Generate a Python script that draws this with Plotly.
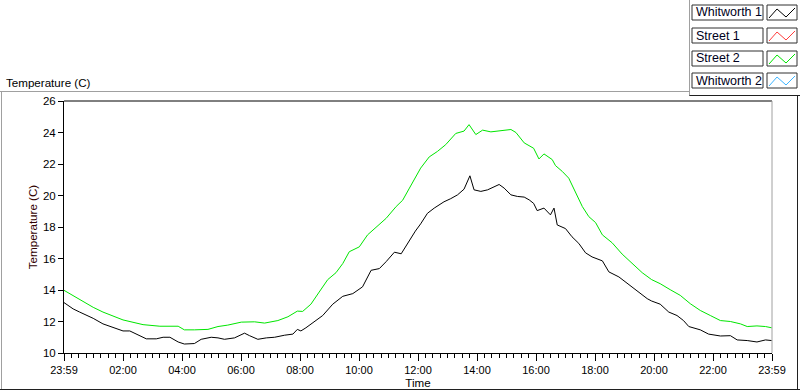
import plotly.graph_objects as go

# ---------------- data (hours since 23:59 start, temperature in C) ----------------
hours_whitworth1 = [0.0, 0.31, 0.53, 0.99, 1.32, 1.66, 2.0, 2.23, 2.46, 2.79, 3.13, 3.36, 3.59, 3.81, 3.87,
                    4.08, 4.42, 4.65, 4.99, 5.22, 5.44, 5.78, 6.12, 6.29, 6.57, 6.86, 7.14, 7.48, 7.76, 7.91,
                    8.03, 8.20, 8.43, 8.77, 9.11, 9.45, 9.79, 10.12, 10.41, 10.69, 10.92, 11.20, 11.43, 11.71, 11.91,
                    12.09, 12.32, 12.55, 12.88, 13.11, 13.34, 13.56, 13.76, 13.90, 14.13, 14.36, 14.53, 14.75, 14.92,
                    15.15, 15.37, 15.60, 15.77, 15.92, 16.04, 16.27, 16.49, 16.61, 16.72, 17.00, 17.22, 17.45, 17.68,
                    17.90, 18.25, 18.47, 18.81, 19.15, 19.49, 19.77, 19.92, 20.21, 20.50, 20.78, 21.00, 21.18, 21.57,
                    21.85, 22.25, 22.59, 22.82, 23.16, 23.49, 23.78, 23.99]
temp_whitworth1 = [13.2, 12.8, 12.6, 12.2, 11.85, 11.6, 11.4, 11.4, 11.2, 10.9, 10.9, 11.0, 11.0, 10.8, 10.7,
                   10.57, 10.6, 10.87, 11.0, 10.96, 10.87, 10.96, 11.26, 11.1, 10.87, 10.96, 11.0, 11.13, 11.2, 11.5,
                   11.4, 11.6, 11.9, 12.38, 13.1, 13.6, 13.77, 14.2, 15.25, 15.36, 15.8, 16.4, 16.3, 17.17, 17.74,
                   18.2, 18.87, 19.2, 19.6, 19.8, 20.04, 20.4, 21.25, 20.36, 20.26, 20.36, 20.53, 20.7, 20.47,
                   20.04, 19.94, 19.9, 19.72, 19.5, 19.04, 19.2, 18.77, 19.2, 18.13, 17.9, 17.38, 16.96, 16.36,
                   16.1, 15.85, 15.15, 14.83, 14.34, 13.87, 13.45, 13.3, 13.1, 12.6, 12.38, 12.06, 11.68, 11.47,
                   11.2, 11.08, 11.1, 10.83, 10.79, 10.7, 10.83, 10.79]

hours_street2 = [0.0, 0.53, 0.99, 1.32, 2.0, 2.68, 3.25, 3.87, 4.08, 4.42, 4.88, 5.22, 5.55, 6.01, 6.46, 6.80,
                 7.25, 7.59, 7.91, 8.09, 8.37, 8.65, 8.94, 9.22, 9.45, 9.67, 10.01, 10.29, 10.58, 10.92, 11.26,
                 11.48, 11.71, 11.91, 12.09, 12.38, 12.66, 12.94, 13.28, 13.56, 13.73, 13.96, 14.19, 14.47, 14.81,
                 15.15, 15.32, 15.60, 15.92, 16.10, 16.27, 16.55, 16.66, 16.89, 17.11, 17.34, 17.57, 17.79, 18.02,
                 18.25, 18.58, 18.92, 19.26, 19.60, 19.92, 20.21, 20.55, 20.89, 21.23, 21.57, 21.91, 22.25, 22.59,
                 22.93, 23.16, 23.49, 23.78, 23.99]
temp_street2 = [13.98, 13.4, 12.9, 12.6, 12.1, 11.8, 11.7, 11.7, 11.47, 11.47, 11.5, 11.68, 11.77, 11.96, 11.98, 11.9,
                12.06, 12.3, 12.66, 12.64, 13.1, 13.87, 14.66, 15.1, 15.68, 16.43, 16.74, 17.5, 18.0, 18.55, 19.3,
                19.7, 20.47, 21.1, 21.74, 22.45, 22.8, 23.23, 23.94, 24.09, 24.5, 23.87, 24.15, 24.04, 24.13,
                24.19, 24.0, 23.34, 23.0, 22.32, 22.64, 22.28, 21.9, 21.53, 21.1, 20.15, 19.3, 18.66, 18.28,
                17.5, 17.0, 16.28, 15.68, 15.1, 14.66, 14.4, 14.02, 13.66, 13.13, 12.7, 12.38, 12.06, 12.0,
                11.85, 11.68, 11.72, 11.68, 11.6]

series_names = ["Whitworth 1", "Street 1", "Street 2", "Whitworth 2"]
series_colors = ["#000000", "#ff3c3c", "#00e600", "#3cb4ff"]

x_tick_hours = [0, 2, 4, 6, 8, 10, 12, 14, 16, 18, 20, 22, 24]
x_tick_labels = ["23:59", "02:00", "04:00", "06:00", "08:00", "10:00", "12:00",
                 "14:00", "16:00", "18:00", "20:00", "22:00", "23:59"]
y_ticks = [10, 12, 14, 16, 18, 20, 22, 24, 26]

# ---------------- layout geometry ----------------
W, H = 800, 392
L, R, T, B = 64, 28, 101, 39
PW, PH = W - L - R, H - T - B
FONT = "Liberation Sans, Arial, sans-serif"


def px(x):
    return (x - L) / PW


def py(y):
    return (H - B - y) / PH


fig = go.Figure()
fig.add_trace(go.Scatter(x=hours_whitworth1, y=temp_whitworth1, mode="lines",
                         name=series_names[0], line=dict(color=series_colors[0], width=1)))
fig.add_trace(go.Scatter(x=hours_street2, y=temp_street2, mode="lines",
                         name=series_names[2], line=dict(color=series_colors[2], width=1)))

shapes = []
# plot box: top black, right gray
shapes.append(dict(type="line", xref="paper", yref="paper", x0=0, x1=1, y0=1, y1=1,
                   line=dict(color="black", width=1)))
shapes.append(dict(type="line", xref="paper", yref="paper", x0=1, x1=1, y0=0, y1=1,
                   line=dict(color="#a0a0a0", width=1)))
# outer chart frame
shapes.append(dict(type="line", xref="paper", yref="paper", x0=px(0), x1=px(689), y0=py(91.5), y1=py(91.5),
                   line=dict(color="#a0a0a0", width=1)))
shapes.append(dict(type="line", xref="paper", yref="paper", x0=px(1.5), x1=px(1.5), y0=py(91.5), y1=py(389.5),
                   line=dict(color="#a0a0a0", width=1)))
shapes.append(dict(type="line", xref="paper", yref="paper", x0=px(0), x1=px(800), y0=py(389.5), y1=py(389.5),
                   line=dict(color="#202020", width=1)))
shapes.append(dict(type="line", xref="paper", yref="paper", x0=px(797.5), x1=px(797.5), y0=py(96), y1=py(389.5),
                   line=dict(color="#202020", width=1)))
# legend panel edges
shapes.append(dict(type="line", xref="paper", yref="paper", x0=px(689.5), x1=px(689.5), y0=py(0), y1=py(96),
                   line=dict(color="#a0a0a0", width=1)))
shapes.append(dict(type="line", xref="paper", yref="paper", x0=px(689.5), x1=px(800), y0=py(95.5), y1=py(95.5),
                   line=dict(color="#202020", width=1)))

annotations = []
row_tops = [5, 28, 51, 73]
for name, color, top in zip(series_names, series_colors, row_tops):
    bot = top + 15
    shapes.append(dict(type="rect", xref="paper", yref="paper", x0=px(692), x1=px(763),
                       y0=py(bot), y1=py(top), line=dict(color="#303030", width=1), fillcolor="white"))
    shapes.append(dict(type="rect", xref="paper", yref="paper", x0=px(767), x1=px(797),
                       y0=py(bot), y1=py(top), line=dict(color="#303030", width=1), fillcolor="white"))
    path = "M {:.4f},{:.4f} L {:.4f},{:.4f} L {:.4f},{:.4f} L {:.4f},{:.4f}".format(
        px(769), py(top + 13), px(777), py(top + 4), px(786), py(top + 12), px(795), py(top + 3))
    shapes.append(dict(type="path", xref="paper", yref="paper", path=path,
                       line=dict(color=color, width=1)))
    annotations.append(dict(xref="paper", yref="paper", x=px(694), y=py(top + 7.5), text=name,
                            showarrow=False, xanchor="left", yanchor="middle",
                            font=dict(family=FONT, size=12.5, color="#000020")))

annotations.append(dict(xref="paper", yref="paper", x=px(4), y=py(82), text="Temperature (C)",
                        showarrow=False, xanchor="left", yanchor="middle",
                        font=dict(family=FONT, size=11.6, color="black")))

fig.update_layout(
    width=W, height=H, autosize=False,
    margin=dict(l=L, r=R, t=T, b=B, pad=0, autoexpand=False),
    paper_bgcolor="white", plot_bgcolor="white",
    showlegend=False, hovermode=False,
    font=dict(family=FONT, size=11, color="black"),
    shapes=shapes, annotations=annotations,
    xaxis=dict(range=[0, 24], tickmode="array", tickvals=x_tick_hours, ticktext=x_tick_labels,
               automargin=False,
               showgrid=False, zeroline=False, showline=True, linecolor="black", linewidth=1,
               ticks="outside", ticklen=7, tickcolor="black", tickwidth=1,
               tickfont=dict(family=FONT, size=11, color="black"),
               minor=dict(tickmode="linear", tick0=0, dtick=0.25, ticks="outside", ticklen=4,
                          tickcolor="black", tickwidth=1, showgrid=False),
               title=dict(text="Time", standoff=1, font=dict(family=FONT, size=11.6, color="black"))),
    yaxis=dict(range=[10, 26], tickmode="array", tickvals=y_ticks,
               automargin=False,
               showgrid=False, zeroline=False, showline=True, linecolor="black", linewidth=1,
               ticks="outside", ticklen=5, tickcolor="black", tickwidth=1,
               tickfont=dict(family=FONT, size=11.5, color="black"),
               title=dict(text="Temperature (C)", standoff=2,
                          font=dict(family=FONT, size=11.6, color="#300000"))),
)

fig.write_html("out.html", config={"displayModeBar": False, "staticPlot": True},
               post_script="document.body.style.margin='0';document.body.style.overflow='hidden';")
